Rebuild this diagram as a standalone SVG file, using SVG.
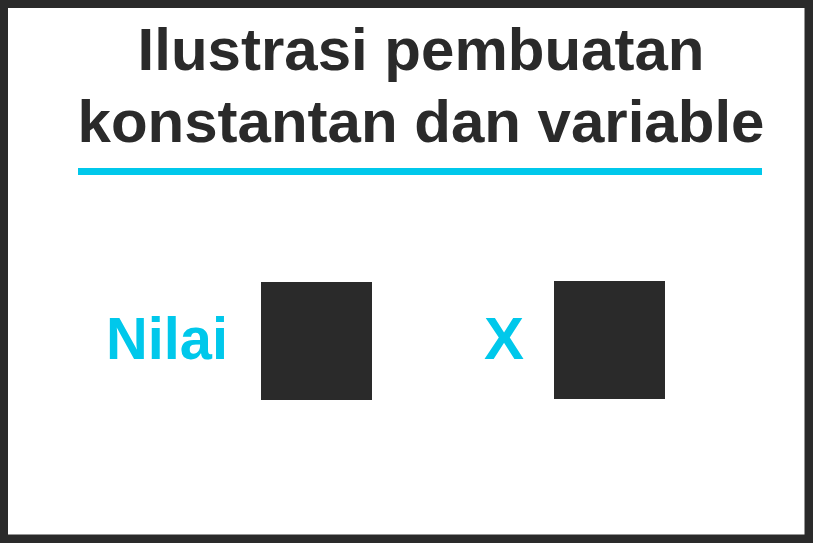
<svg xmlns="http://www.w3.org/2000/svg" width="813" height="543" viewBox="0 0 813 543">
<style>
.title{font-family:"Liberation Sans",Arial,sans-serif;font-weight:bold;font-size:60px;fill:#2a2a2a;text-anchor:middle}
.label{font-family:"Liberation Sans",Arial,sans-serif;font-weight:bold;font-size:60px;fill:#00c8eb}
.box{fill:#2a2a2a}
</style>
<rect x="0" y="0" width="813" height="543" fill="#2a2a2a"/>
<rect x="8" y="8" width="796.5" height="526.5" fill="#ffffff"/>
<g id="title">
<text class="title" x="421" y="70">Ilustrasi pembuatan</text>
<text class="title" x="421" y="142">konstantan dan variable</text>
<rect x="78" y="168" width="684" height="7" fill="#00c8eb"/>
</g>
<g id="constant">
<text class="label" x="106" y="359" textLength="122" lengthAdjust="spacingAndGlyphs">Nilai</text>
<rect class="box" x="261" y="282" width="111" height="118"/>
</g>
<g id="variable">
<text class="label" x="484" y="359">X</text>
<rect class="box" x="554" y="281" width="111" height="118"/>
</g>
<g id="connectors"></g>
</svg>
